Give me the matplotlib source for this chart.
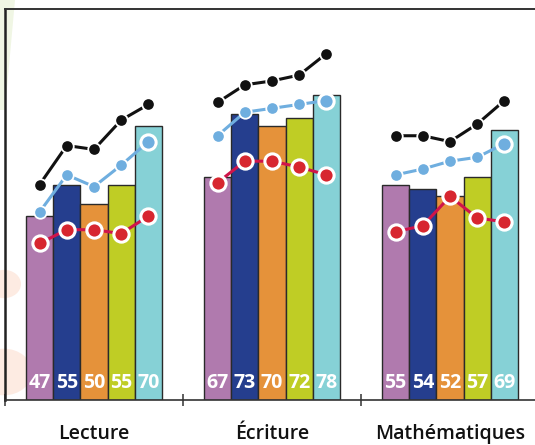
import matplotlib
matplotlib.use("Agg")
import matplotlib.pyplot as plt
from matplotlib.patches import Circle, Polygon
import numpy as np

categories = ["Lecture", "Écriture", "Mathématiques"]
bar_colors = ["#B07AAE", "#253E8E", "#E5923A", "#BFCD25", "#86D1D6"]

# bar heights as drawn, and the value labels printed on them
bar_values = [
    [47, 55, 50, 55, 70],
    [57, 73, 70, 72, 78],
    [55, 54, 52, 57, 69],
]
bar_labels = [
    ["47", "55", "50", "55", "70"],
    ["67", "73", "70", "72", "78"],
    ["55", "54", "52", "57", "69"],
]

black_series = [
    [55, 65, 64, 71.5, 75.5],
    [76, 80.5, 81.5, 83, 88.5],
    [67.5, 67.5, 66, 70.5, 76.5],
]
blue_series = [
    [48, 57.5, 54.5, 60, 66],
    [67.5, 73.5, 74.5, 75.5, 76.5],
    [57.5, 59, 61, 62, 65.5],
]
red_series = [
    [40, 43.5, 43.5, 42.5, 47],
    [55.5, 61, 61, 59.5, 57.5],
    [43, 44.5, 52, 46.5, 45.5],
]

W, H = 535, 445
fig = plt.figure(figsize=(W / 100, H / 100), dpi=100)

# page decorations (behind the chart)
fig.patches.append(Polygon([[0, 1], [15 / W, 1], [5 / W, 1 - 110 / H], [0, 1 - 110 / H]],
                           closed=True, transform=fig.transFigure, facecolor="#F0F6E4",
                           edgecolor="none", zorder=-5))
fig.patches.append(Circle((4 / W, 1 - 284 / H), 17 / W, transform=fig.transFigure,
                          facecolor="#FDEBE2", edgecolor="none", zorder=-5))
fig.patches.append(Circle((4 / W, 1 - 372 / H), 28 / W, transform=fig.transFigure,
                          facecolor="#FDEBE2", edgecolor="none", zorder=-5))

ax = fig.add_axes([5 / W, (H - 400) / H, (539 - 5) / W, (400 - 8.5) / H])
ax.set_zorder(2)
ax.set_facecolor("none")
ax.set_xlim(-0.5, 2.5)
ax.set_ylim(0, 100)

bw = 0.152
offsets = (np.arange(5) - 2) * 0.153
for g in range(3):
    xs = g + offsets
    ax.bar(xs, bar_values[g], width=bw, color=bar_colors, edgecolor="#2a2a2a",
           linewidth=1.0, zorder=2)
    for x, lab in zip(xs, bar_labels[g]):
        ax.text(x, 4.4, lab, ha="center", va="center", color="white",
                fontsize=14, fontweight="bold", family="Open Sans", zorder=5)
    ax.plot(xs, black_series[g], color="#111111", lw=2.2, marker="o", ms=9,
            mfc="#111111", mec="white", mew=1.3, zorder=4)
    ax.plot(xs[:-1], blue_series[g][:-1], color="#6FAEDF", lw=2.2, marker="o", ms=9,
            mfc="#6FAEDF", mec="white", mew=1.3, zorder=4)
    ax.plot(xs[-2:], blue_series[g][-2:], color="#6FAEDF", lw=2.2, zorder=3.9)
    ax.plot(xs[-1:], blue_series[g][-1:], ls="none", marker="o", ms=11,
            mfc="#6FAEDF", mec="white", mew=2.2, zorder=4.1)
    ax.plot(xs, red_series[g], color="#D0144A", lw=2.2, marker="o", ms=11,
            mfc="#D7262F", mec="white", mew=2.2, zorder=4)

ax.spines["right"].set_visible(False)
ax.spines["left"].set_color("#222222")
ax.spines["left"].set_linewidth(1.8)
ax.spines["top"].set_color("#333333")
ax.spines["top"].set_linewidth(1.4)
ax.spines["bottom"].set_color("#333333")
ax.spines["bottom"].set_linewidth(1.2)

ax.set_yticks([])
ax.set_xticks([-0.5, 0.5, 1.5, 2.5])
ax.set_xticklabels([])
ax.tick_params(axis="x", which="major", direction="inout", length=8, width=1.1,
               color="#333333")
ax.set_xticks([0, 1, 2], minor=True)
ax.set_xticklabels(categories, minor=True, fontsize=14, fontweight="semibold",
                   family="Open Sans", color="#111111")
ax.tick_params(axis="x", which="minor", length=0, pad=17)

fig.savefig("out.png", dpi=100)
